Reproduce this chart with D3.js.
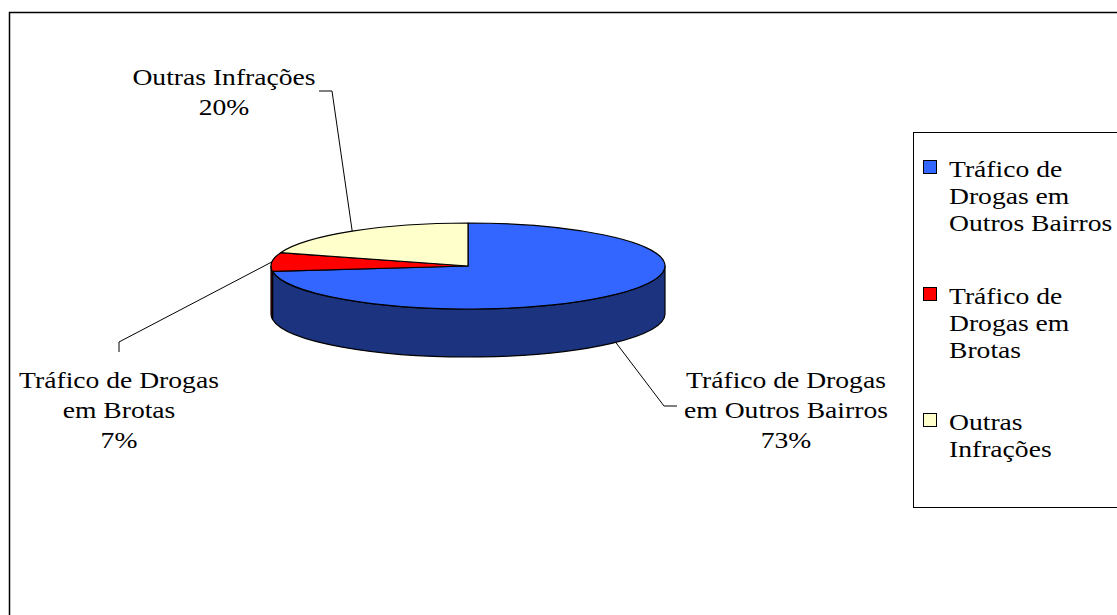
<!DOCTYPE html>
<html>
<head>
<meta charset="utf-8">
<script src="https://cdn.jsdelivr.net/npm/d3@7"></script>
<style>
  html, body { margin: 0; padding: 0; background: #fff; }
  svg { display: block; }
  text { font-family: "Liberation Serif", "Times New Roman", serif; fill: #000; }
</style>
</head>
<body>
<svg id="chart" width="1117" height="615"></svg>
<script>
// Slice categories (top-face legend names) and their shares in percent
const categories = [
  "Tráfico de Drogas em Outros Bairros",
  "Tráfico de Drogas em Brotas",
  "Outras Infrações"
];
const values = [73, 7, 20];

// Wrapped text for the slice labels and legend entries
const labelLines = [
  ["Tráfico de Drogas", "em Outros Bairros"],
  ["Tráfico de Drogas", "em Brotas"],
  ["Outras Infrações"]
];
const legendLines = [
  ["Tráfico de", "Drogas em", "Outros Bairros"],
  ["Tráfico de", "Drogas em", "Brotas"],
  ["Outras", "Infrações"]
];

const topColors  = ["#3366FF", "#FF0000", "#FFFFCC"];
const sideColors = ["#1C3380", "#800000", "#808066"];

const svg = d3.select("#chart");
const W = 1117, H = 615;
const FS = 24, SX = 1.15;  // serif text, slightly widened

// Outer chart frame (runs off the right and bottom edges)
svg.append("rect").attr("x", 9.5).attr("y", 12.5)
  .attr("width", W + 20).attr("height", H + 20)
  .attr("fill", "#fff").attr("stroke", "#000").attr("stroke-width", 1.5);

// 3D pie geometry
const cx = 468, cy = 266, rx = 197, ry = 43, depth = 48;
const pt = (a, dy = 0) => [cx + rx * Math.sin(a), cy - ry * Math.cos(a) + dy];

const arcs = d3.pie().sort(null).startAngle(0).endAngle(2 * Math.PI)(values);

const g = svg.append("g");

// Front walls: only the part of each slice between 90° and 270° faces the viewer
arcs.forEach((d, i) => {
  const a0 = Math.max(d.startAngle, Math.PI / 2);
  const a1 = Math.min(d.endAngle, 3 * Math.PI / 2);
  if (a1 <= a0) return;
  const p0 = pt(a0), p1 = pt(a1), q1 = pt(a1, depth), q0 = pt(a0, depth);
  const large = (a1 - a0) > Math.PI ? 1 : 0;
  const path = `M${p0}A${rx},${ry} 0 ${large} 1 ${p1}L${q1}A${rx},${ry} 0 ${large} 0 ${q0}Z`;
  g.append("path").attr("d", path)
    .attr("fill", sideColors[i]).attr("stroke", "#000").attr("stroke-width", 1.2)
    .attr("stroke-linejoin", "round");
});

// Top faces
arcs.forEach((d, i) => {
  const p0 = pt(d.startAngle), p1 = pt(d.endAngle);
  const large = (d.endAngle - d.startAngle) > Math.PI ? 1 : 0;
  const path = `M${cx},${cy}L${p0}A${rx},${ry} 0 ${large} 1 ${p1}Z`;
  g.append("path").attr("d", path)
    .attr("fill", topColors[i]).attr("stroke", "#000").attr("stroke-width", 1.2)
    .attr("stroke-linejoin", "round");
});

// Label placement (text centre x, first baseline) and leader-line bends
const labelPos = [
  { x: 786, y: 388, bend: [[664, 406], [677, 406]], onSide: true },
  { x: 119, y: 388, bend: [[119, 342], [119, 352]], onSide: false },
  { x: 224, y: 85,  bend: [[332, 91],  [319, 91]],  onSide: false }
];
const pct = v => d3.format("d")(v) + "%";

arcs.forEach((d, i) => {
  const mid = (d.startAngle + d.endAngle) / 2;
  const L = labelPos[i];
  const anchor = pt(mid, L.onSide ? depth : 0);
  const pts = [anchor, ...L.bend];
  svg.append("path").attr("d", d3.line()(pts))
    .attr("fill", "none").attr("stroke", "#000").attr("stroke-width", 1);

  const lines = [...labelLines[i], pct(d.data)];
  lines.forEach((t, k) => {
    svg.append("text")
      .attr("transform", `translate(${L.x},${L.y + k * 30}) scale(${SX},1)`)
      .attr("text-anchor", "middle").attr("font-size", FS).text(t);
  });
});

// Legend
svg.append("rect").attr("x", 913.5).attr("y", 132.5)
  .attr("width", 250).attr("height", 375)
  .attr("fill", "#fff").attr("stroke", "#000").attr("stroke-width", 1);

const legendTop = [177, 304, 430];
categories.forEach((c, i) => {
  const y0 = legendTop[i];
  svg.append("rect").attr("x", 923.5).attr("y", y0 - 16.5)
    .attr("width", 13).attr("height", 13)
    .attr("fill", topColors[i]).attr("stroke", "#000").attr("stroke-width", 1);
  legendLines[i].forEach((t, k) => {
    svg.append("text")
      .attr("transform", `translate(949,${y0 + k * 27}) scale(${SX},1)`)
      .attr("font-size", FS).text(t);
  });
});
</script>
</body>
</html>
